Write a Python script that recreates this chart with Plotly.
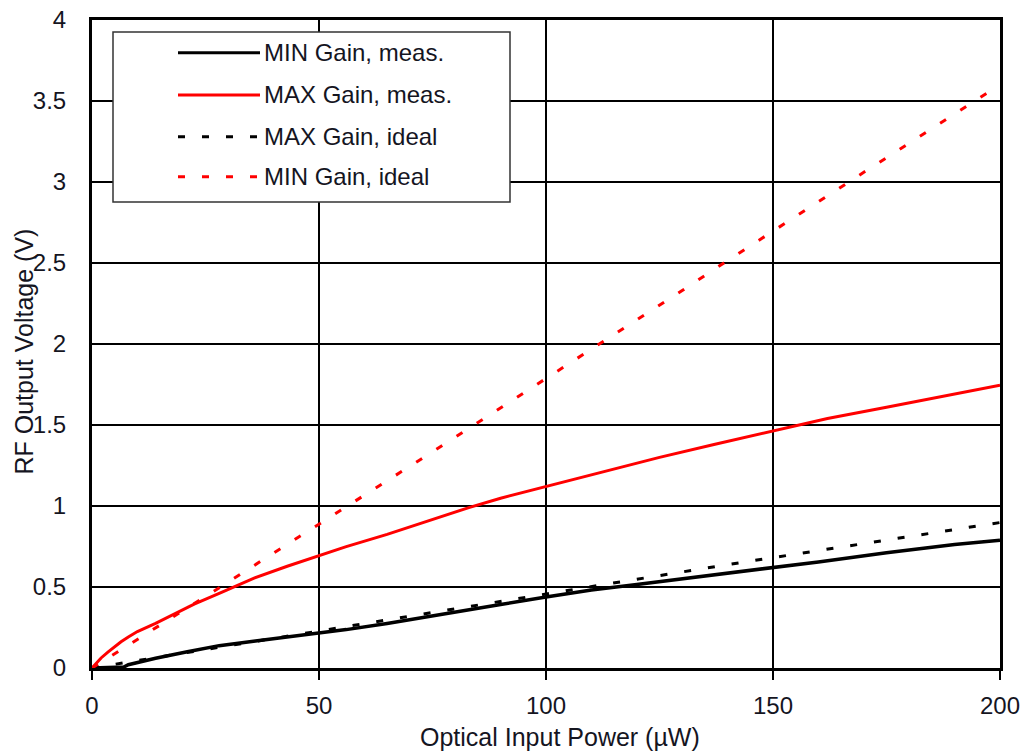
import plotly.graph_objects as go

# ---- data ----
min_meas_x = [0, 3, 7, 8, 10, 14, 21, 28, 36, 43, 50, 56, 65, 75, 90, 100, 110, 120, 127, 135, 150, 160, 175, 190, 200]
min_meas_y = [0, 0.003, 0.006, 0.02, 0.035, 0.06, 0.10, 0.138, 0.166, 0.19, 0.213, 0.237, 0.275, 0.32, 0.392, 0.438, 0.482, 0.516, 0.54, 0.566, 0.62, 0.655, 0.712, 0.762, 0.788]

max_meas_x = [0, 1, 2, 3.5, 5, 6.4, 8, 10, 14, 18, 22.5, 28.4, 35.7, 43, 50, 56, 65, 75, 83, 90, 100, 112, 125, 137, 150, 162, 175, 188, 200]
max_meas_y = [0, 0.032, 0.062, 0.098, 0.132, 0.162, 0.192, 0.225, 0.275, 0.333, 0.394, 0.466, 0.555, 0.628, 0.693, 0.749, 0.825, 0.918, 0.99, 1.048, 1.12, 1.21, 1.30, 1.38, 1.465, 1.54, 1.61, 1.68, 1.745]

max_ideal_x = [0, 20, 40, 60, 80, 100, 120, 140, 160, 180, 200]
max_ideal_y = [0, 0.092, 0.183, 0.275, 0.366, 0.458, 0.548, 0.638, 0.725, 0.812, 0.898]

min_ideal_x = [0, 10, 20, 30, 40, 50, 60, 70, 80, 90, 100, 110, 120, 130, 140, 150, 160, 170, 180, 190, 200]
min_ideal_y = [0, 0.175, 0.355, 0.53, 0.71, 0.887, 1.065, 1.245, 1.425, 1.605, 1.787, 1.967, 2.15, 2.33, 2.515, 2.698, 2.88, 3.06, 3.24, 3.42, 3.6]

series_names = ["MIN Gain, meas.", "MAX Gain, meas.", "MAX Gain, ideal", "MIN Gain, ideal"]
series_colors = ["#000000", "#ff0000", "#000000", "#ff0000"]
series_dash = ["solid", "solid", "7px,17px", "7px,17px"]
series_width = [3.5, 3, 3, 3]

x_ticks = [0, 50, 100, 150, 200]
y_ticks = [0, 0.5, 1, 1.5, 2, 2.5, 3, 3.5, 4]
y_tick_text = ["0", "0.5", "1", "1.5", "2", "2.5", "3", "3.5", "4"]

FONT = "Liberation Sans, Arial, sans-serif"
TXT = "#15151f"

fig = go.Figure()
xs = [min_meas_x, max_meas_x, max_ideal_x, min_ideal_x]
ys = [min_meas_y, max_meas_y, max_ideal_y, min_ideal_y]
for i in range(4):
    fig.add_trace(go.Scatter(
        x=xs[i], y=ys[i], mode="lines", name=series_names[i],
        line=dict(color=series_colors[i], width=series_width[i], dash=series_dash[i]),
        showlegend=False,
    ))

# body margin is removed by post_script, so the figure fills the page
W, H = 1025, 753
L, R, T, B = 92, 25, 20, 85
pw, ph = W - L - R, H - T - B

def px(xp):  # page x pixel -> paper
    return (xp - L) / pw

def py(yp):  # page y pixel -> paper
    return (H - B - yp) / ph

# manual legend box
shapes = [dict(type="rect", xref="paper", yref="paper",
               x0=px(113), x1=px(510), y0=py(202), y1=py(32),
               line=dict(color="#333333", width=1.5), fillcolor="white", layer="above")]
annotations = []
row_y = [52.7, 95, 136.7, 176.7]
for i in range(4):
    shapes.append(dict(type="line", xref="paper", yref="paper",
                       x0=px(178), x1=px(260), y0=py(row_y[i]), y1=py(row_y[i]),
                       line=dict(color=series_colors[i], width=3, dash=series_dash[i]),
                       layer="above"))
    annotations.append(dict(text=series_names[i], xref="paper", yref="paper",
                            x=px(262), y=py(row_y[i]), xanchor="left", yanchor="middle",
                            showarrow=False, font=dict(family=FONT, size=24, color=TXT)))

annotations.append(dict(text="Optical Input Power (µW)", xref="paper", yref="paper",
                        x=px(560), y=py(737), xanchor="center", yanchor="middle",
                        showarrow=False, font=dict(family=FONT, size=25, color=TXT)))
annotations.append(dict(text="RF Output Voltage (V)", xref="paper", yref="paper",
                        x=px(23), y=py(351.5), xanchor="center", yanchor="middle",
                        textangle=-90, showarrow=False,
                        font=dict(family=FONT, size=25, color=TXT)))

fig.update_layout(
    width=W, height=H,
    margin=dict(l=L, r=R, t=T, b=B, autoexpand=False),
    paper_bgcolor="white", plot_bgcolor="white",
    font=dict(family=FONT, size=24, color=TXT),
    shapes=shapes, annotations=annotations,
    showlegend=False,
)
fig.update_xaxes(
    range=[0, 200], tickvals=x_ticks, ticks="outside", ticklen=9, tickwidth=1.5, tickcolor="black",
    showgrid=True, gridcolor="black", gridwidth=1.5,
    showline=True, linecolor="black", linewidth=3, mirror=True,
    zeroline=False, ticklabelstandoff=5, ticklabeloverflow="allow",
    tickfont=dict(family=FONT, size=24, color=TXT),
)
fig.update_yaxes(
    range=[0, 4], tickvals=y_ticks, ticktext=y_tick_text, ticks="",
    showgrid=True, gridcolor="black", gridwidth=1.5,
    showline=True, linecolor="black", linewidth=3, mirror=True,
    zeroline=False, ticklabelstandoff=18, ticklabeloverflow="allow",
    tickfont=dict(family=FONT, size=24, color=TXT),
)

fig.write_html("out.html",
               config={"displayModeBar": False},
               post_script="document.body.style.margin='0';document.body.style.overflow='hidden';")
